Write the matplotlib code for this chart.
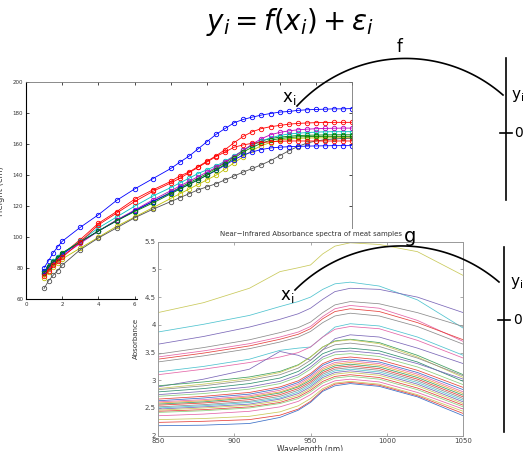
import numpy as np
import matplotlib
matplotlib.use('Agg')
import matplotlib.pyplot as plt
from matplotlib.patches import Rectangle

W, H = 523, 451

# growth curves (Berkeley-style ages), heights in cm
AGES = [1, 1.25, 1.5, 1.75, 2, 3, 4, 5, 6, 7, 8, 8.5, 9, 9.5, 10, 10.5, 11, 11.5,
        12, 12.5, 13, 13.5, 14, 14.5, 15, 15.5, 16, 16.5, 17, 17.5, 18]

height_blue1 = [80.4, 84.9, 90.0, 93.8, 97.4, 106.4, 114.5, 123.7, 131.1, 137.7, 144.3, 148.4,
                152.2, 156.9, 161.6, 166.3, 170.1, 173.8, 175.9, 177.4, 178.7, 179.7, 180.6,
                181.0, 181.7, 182.1, 182.3, 182.5, 182.7, 182.7, 182.9]
height_green1 = [78.0, 81.5, 84.5, 87.0, 89.5, 97.0, 104.0, 111.0, 117.0, 123.0, 129.0, 132.0,
                 135.0, 138.0, 141.0, 144.5, 148.0, 152.0, 156.0, 159.5, 162.0, 163.5, 164.5,
                 165.0, 165.5, 165.7, 165.8, 165.9, 166.0, 166.0, 166.0]
height_red1 = [76.0, 80.0, 83.5, 86.5, 89.0, 98.5, 109.0, 116.5, 124.5, 130.5, 136.0, 139.5,
               142.0, 145.5, 149.0, 152.5, 156.5, 161.0, 165.0, 168.0, 170.0, 171.2, 172.0,
               172.8, 173.3, 173.6, 173.8, 173.9, 174.0, 174.0, 174.0]
height_cyan = [77.0, 81.0, 84.5, 87.0, 89.5, 97.5, 106.0, 113.0, 120.0, 126.5, 132.0, 135.0,
               138.0, 141.0, 143.5, 146.0, 149.0, 152.5, 156.0, 159.5, 162.0, 164.0, 165.5,
               166.5, 167.0, 167.4, 167.7, 167.9, 168.0, 168.0, 168.0]
height_magenta = [76.0, 79.5, 83.0, 85.5, 88.0, 96.0, 104.0, 111.0, 117.5, 124.0, 130.0, 133.0,
                  136.0, 139.0, 142.0, 145.0, 148.5, 152.0, 156.0, 160.0, 163.5, 166.0, 167.5,
                  168.5, 169.2, 169.6, 169.9, 170.1, 170.2, 170.3, 170.3]
height_yellow = [74.0, 77.5, 81.0, 83.5, 86.0, 93.0, 100.0, 107.0, 113.0, 119.0, 125.0, 128.0,
                 131.0, 134.0, 137.0, 140.0, 144.0, 148.0, 152.0, 156.0, 159.0, 161.0, 162.5,
                 163.3, 163.7, 163.9, 164.0, 164.0, 164.1, 164.1, 164.1]
height_black = [67.0, 72.0, 75.5, 78.5, 82.0, 92.0, 99.5, 106.0, 112.5, 118.0, 123.0, 125.5,
                128.0, 130.5, 132.5, 134.5, 137.0, 139.5, 142.0, 144.3, 146.7, 149.3, 152.5,
                155.6, 158.4, 160.6, 162.0, 162.8, 163.3, 163.6, 163.8]
height_blue2 = [78.0, 81.0, 84.0, 86.5, 89.0, 97.0, 104.0, 110.5, 117.0, 123.0, 128.5, 131.5,
                134.0, 137.0, 140.0, 143.0, 146.5, 150.0, 153.0, 155.0, 156.5, 157.5, 158.0,
                158.3, 158.5, 158.7, 158.8, 158.9, 159.0, 159.0, 159.0]
height_green2 = [77.0, 80.5, 84.0, 86.5, 90.0, 97.0, 104.0, 110.5, 116.5, 122.0, 128.0, 131.0,
                 134.0, 137.0, 140.0, 143.5, 147.0, 151.0, 155.0, 158.0, 160.5, 162.5, 163.5,
                 164.2, 164.6, 164.8, 164.9, 165.0, 165.0, 165.0, 165.0]
height_red2 = [75.0, 78.5, 82.0, 84.5, 87.0, 97.0, 108.0, 115.5, 123.0, 129.5, 135.0, 138.0,
               141.5, 145.0, 148.5, 152.0, 155.0, 158.0, 159.5, 160.5, 161.0, 161.5, 161.8,
               162.0, 162.0, 162.0, 162.0, 162.0, 162.0, 162.0, 162.0]

GROWTH = [height_blue1, height_green1, height_red1, height_cyan, height_magenta,
          height_yellow, height_black, height_blue2, height_green2, height_red2]
GROWTH_COLORS = ['#0000ff', '#008000', '#ff0000', '#00bfbf', '#bf00bf',
                 '#bfbf00', '#505050', '#0000ff', '#008000', '#ff0000']

# NIR spectra of meat samples
WAVELENGTH = [850, 880, 910, 930, 942, 950, 958, 966, 976, 995, 1020, 1050]
SPECTRA = [
    [4.22, 4.40, 4.66, 4.96, 5.03, 5.08, 5.28, 5.42, 5.48, 5.45, 5.32, 4.89],
    [3.87, 4.01, 4.17, 4.33, 4.42, 4.50, 4.64, 4.74, 4.77, 4.70, 4.45, 3.94],
    [3.65, 3.79, 3.96, 4.10, 4.20, 4.30, 4.46, 4.60, 4.66, 4.64, 4.50, 4.22],
    [3.47, 3.59, 3.73, 3.86, 3.95, 4.05, 4.22, 4.36, 4.42, 4.38, 4.22, 3.97],
    [3.42, 3.53, 3.66, 3.78, 3.87, 3.97, 4.15, 4.29, 4.35, 4.30, 4.08, 3.70],
    [3.38, 3.49, 3.62, 3.74, 3.83, 3.93, 4.11, 4.24, 4.29, 4.24, 4.04, 3.73],
    [3.33, 3.44, 3.57, 3.69, 3.78, 3.88, 4.04, 4.16, 4.21, 4.16, 3.97, 3.65],
    [3.15, 3.25, 3.38, 3.54, 3.58, 3.60, 3.78, 3.96, 4.02, 3.98, 3.78, 3.45],
    [3.10, 3.20, 3.32, 3.42, 3.50, 3.60, 3.78, 3.92, 3.97, 3.93, 3.72, 3.40],
    [2.88, 3.02, 3.20, 3.52, 3.45, 3.36, 3.55, 3.75, 3.82, 3.78, 3.58, 3.30],
    [2.90, 2.97, 3.06, 3.16, 3.28, 3.42, 3.60, 3.71, 3.74, 3.68, 3.45, 3.10],
    [2.85, 2.93, 3.03, 3.14, 3.27, 3.42, 3.60, 3.70, 3.73, 3.66, 3.42, 3.05],
    [2.83, 2.90, 3.00, 3.10, 3.22, 3.36, 3.55, 3.64, 3.67, 3.61, 3.40, 3.08],
    [2.79, 2.85, 2.94, 3.04, 3.16, 3.30, 3.48, 3.56, 3.58, 3.53, 3.33, 2.98],
    [2.74, 2.80, 2.88, 2.98, 3.10, 3.24, 3.42, 3.51, 3.53, 3.48, 3.30, 3.02],
    [2.71, 2.76, 2.84, 2.94, 3.06, 3.20, 3.38, 3.46, 3.48, 3.43, 3.24, 2.92],
    [2.66, 2.71, 2.78, 2.88, 2.99, 3.12, 3.30, 3.39, 3.42, 3.37, 3.18, 2.87],
    [2.63, 2.68, 2.75, 2.85, 2.96, 3.09, 3.27, 3.36, 3.38, 3.33, 3.14, 2.83],
    [2.61, 2.65, 2.72, 2.82, 2.93, 3.06, 3.23, 3.32, 3.35, 3.30, 3.11, 2.79],
    [2.59, 2.63, 2.70, 2.79, 2.90, 3.03, 3.20, 3.29, 3.32, 3.27, 3.08, 2.76],
    [2.57, 2.61, 2.68, 2.77, 2.88, 3.00, 3.17, 3.26, 3.29, 3.24, 3.05, 2.73],
    [2.55, 2.59, 2.65, 2.74, 2.85, 2.97, 3.14, 3.23, 3.26, 3.21, 3.02, 2.70],
    [2.52, 2.56, 2.62, 2.71, 2.82, 2.94, 3.11, 3.20, 3.23, 3.18, 2.99, 2.67],
    [2.50, 2.54, 2.60, 2.68, 2.79, 2.91, 3.08, 3.17, 3.20, 3.15, 2.96, 2.64],
    [2.48, 2.52, 2.57, 2.66, 2.76, 2.88, 3.05, 3.14, 3.17, 3.12, 2.93, 2.61],
    [2.46, 2.50, 2.55, 2.63, 2.73, 2.85, 3.02, 3.11, 3.14, 3.09, 2.90, 2.58],
    [2.44, 2.47, 2.52, 2.60, 2.70, 2.82, 2.98, 3.07, 3.10, 3.05, 2.86, 2.55],
    [2.42, 2.45, 2.50, 2.58, 2.67, 2.79, 2.95, 3.04, 3.07, 3.02, 2.83, 2.52],
    [2.36, 2.39, 2.44, 2.52, 2.62, 2.74, 2.90, 2.99, 3.02, 2.97, 2.78, 2.48],
    [2.29, 2.31, 2.35, 2.43, 2.54, 2.67, 2.85, 2.95, 2.98, 2.93, 2.74, 2.44],
    [2.24, 2.26, 2.29, 2.37, 2.48, 2.62, 2.82, 2.93, 2.96, 2.91, 2.72, 2.40],
    [2.18, 2.19, 2.22, 2.33, 2.46, 2.60, 2.80, 2.90, 2.94, 2.89, 2.70, 2.36],
]
SPECTRA_COLORS = ['#c9c95a', '#4fc3cf', '#7b68b8', '#8c8c8c', '#e466a8', '#e5413c',
                  '#8c8c8c', '#4fc3cf', '#e466a8', '#7b68b8', '#3f9f5f', '#c9c95a',
                  '#8c8c8c', '#2f8f70', '#7b68b8', '#8ccf7e', '#e5413c', '#3b6fc7',
                  '#e466a8', '#eba23c', '#3f9f5f', '#e5413c', '#8c8c8c', '#4fc3cf',
                  '#7b68b8', '#c9c95a', '#e5413c', '#8ccf7e', '#e466a8', '#c9c95a',
                  '#e5413c', '#3b6fc7']


def px_axes(fig, left, top, right, bottom, **kw):
    return fig.add_axes([left / W, 1 - bottom / H, (right - left) / W, (bottom - top) / H], **kw)


def arc_through(ax, p0, p1, p2, **kw):
    (x1, y1), (x2, y2), (x3, y3) = p0, p1, p2
    d = 2 * (x1 * (y2 - y3) + x2 * (y3 - y1) + x3 * (y1 - y2))
    ux = ((x1**2 + y1**2) * (y2 - y3) + (x2**2 + y2**2) * (y3 - y1) + (x3**2 + y3**2) * (y1 - y2)) / d
    uy = ((x1**2 + y1**2) * (x3 - x2) + (x2**2 + y2**2) * (x1 - x3) + (x3**2 + y3**2) * (x2 - x1)) / d
    r = np.hypot(x1 - ux, y1 - uy)
    a = np.linspace(np.arctan2(y1 - uy, x1 - ux), np.arctan2(y3 - uy, x3 - ux), 120)
    ax.plot(ux + r * np.cos(a), uy + r * np.sin(a), **kw)


fig = plt.figure(figsize=(W / 100, H / 100), dpi=100)

# growth chart
ax1 = px_axes(fig, 26, 82, 352, 299.3)
ax1.set_zorder(1)
for vals, col in zip(GROWTH, GROWTH_COLORS):
    ax1.plot(AGES, vals, '-o', color=col, lw=0.6, ms=3.2, mfc='none', mew=0.6)
ax1.set_xlim(0, 18)
ax1.set_ylim(60, 200)
ax1.set_xticks(range(0, 19, 2))
ax1.set_yticks(range(60, 201, 20))
ax1.tick_params(direction='in', length=2.5, width=0.5, labelsize=4, pad=2,
                top=True, right=True, labelcolor='#333333')
for s in ['top', 'right']:
    ax1.spines[s].set_color('#777777')
    ax1.spines[s].set_linewidth(0.6)
for s in ['left', 'bottom']:
    ax1.spines[s].set_linewidth(0.8)
ax1.set_ylabel('Height (cm)', fontsize=6, color='#444444')
ax1.yaxis.set_label_coords(-0.064, 0.5)

# white backing of the inset figure
axw = fig.add_axes([0, 0, 1, 1])
axw.set_zorder(2)
axw.set_xlim(0, W)
axw.set_ylim(H, 0)
axw.axis('off')
axw.add_patch(Rectangle((138, 229), 334, 230, facecolor='white', edgecolor='none'))

# spectra chart
ax2 = px_axes(fig, 157.7, 241.7, 463.3, 435.7)
ax2.set_zorder(3)
for vals, col in zip(SPECTRA, SPECTRA_COLORS):
    ax2.plot(WAVELENGTH, vals, color=col, lw=0.55)
ax2.set_xlim(850, 1050)
ax2.set_ylim(2, 5.5)
ax2.set_xticks([850, 900, 950, 1000, 1050])
ax2.set_yticks([2, 2.5, 3, 3.5, 4, 4.5, 5, 5.5])
ax2.set_yticklabels(['2', '2.5', '3', '3.5', '4', '4.5', '5', '5.5'])
ax2.tick_params(direction='in', length=2.5, width=0.5, labelsize=5, pad=1.5,
                top=True, right=True, color='#888888', labelcolor='#444444')
for s in ax2.spines.values():
    s.set_color('#999999')
    s.set_linewidth(0.7)
ax2.set_title('Near\u2212Infrared Absorbance spectra of meat samples', fontsize=5, pad=4,
              color='#333333')
ax2.set_xlabel('Wavelength (nm)', fontsize=5.5, labelpad=1, color='#333333')
ax2.set_ylabel('Absorbance', fontsize=5, labelpad=4, color='#333333')

# annotations in pixel coordinates
axo = fig.add_axes([0, 0, 1, 1])
axo.set_zorder(4)
axo.set_xlim(0, W)
axo.set_ylim(H, 0)
axo.axis('off')

axo.text(290, 22, r'$y_i = f(x_i) + \epsilon_i$', fontsize=20, ha='center', va='center')

# f mapping
arc_through(axo, (297, 106), (393, 59), (503, 95), color='black', lw=1.2)
axo.text(400, 47, 'f', fontsize=12, ha='center', va='center')
axo.text(289, 98, r'$\mathregular{x_i}$', fontsize=12, ha='center', va='center')
axo.plot([506, 506], [58, 200], color='black', lw=1.2)
axo.plot([500, 512], [133, 133], color='black', lw=1.2)
axo.text(511, 96, r'$\mathregular{y_i}$', fontsize=11, ha='left', va='center')
axo.text(514, 133, '0', fontsize=10, ha='left', va='center')

# g mapping
arc_through(axo, (295, 290), (405, 246), (499, 282), color='black', lw=1.2)
axo.text(410, 236, 'g', fontsize=14, ha='center', va='center')
axo.text(287, 296, r'$\mathregular{x_i}$', fontsize=12, ha='center', va='center')
axo.plot([504, 504], [247, 432], color='black', lw=1.2)
axo.plot([498, 510], [320, 320], color='black', lw=1.2)
axo.text(510, 283, r'$\mathregular{y_i}$', fontsize=11, ha='left', va='center')
axo.text(513, 320, '0', fontsize=10, ha='left', va='center')

fig.savefig('out.png', dpi=100)
